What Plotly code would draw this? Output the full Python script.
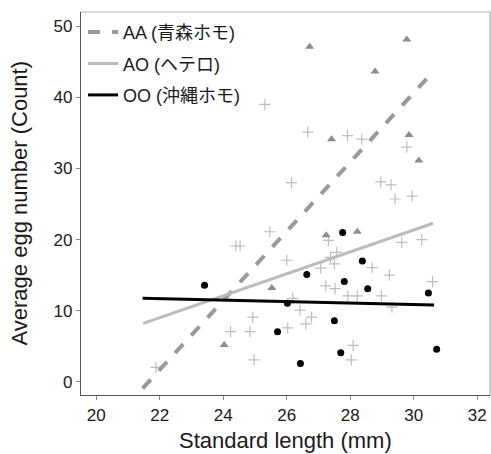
import plotly.graph_objects as go

# AA (triangles)
aa_x = [26.72, 29.78, 28.78, 27.41, 29.85, 30.16, 27.24, 28.22, 25.53, 24.03]
aa_y = [47.1, 48.1, 43.6, 34.1, 34.7, 31.1, 20.6, 21.1, 13.2, 5.2]

# AO (crosses)
ao_x = [25.31, 25.47, 24.40, 24.53, 26.66, 27.91, 28.36, 29.78, 26.15, 28.96, 29.28, 29.41,
        29.95, 27.31, 29.62, 30.25, 26.00, 27.57, 27.38, 27.50, 27.07, 28.69, 29.23, 30.59,
        27.23, 27.52, 27.92, 28.22, 28.98, 26.19, 29.31, 26.42, 26.78, 24.93, 26.60, 26.03,
        24.84, 24.23, 28.09, 28.03, 24.97, 21.88]
ao_y = [39.0, 21.1, 19.1, 19.1, 35.1, 34.6, 34.1, 33.0, 28.0, 28.1, 27.7, 25.7,
        26.1, 19.9, 19.6, 20.0, 17.1, 18.2, 17.5, 16.6, 16.0, 16.05, 15.0, 14.1,
        13.5, 13.1, 12.1, 12.1, 12.1, 11.75, 10.5, 10.1, 9.1, 9.1, 8.15, 7.6,
        7.07, 7.07, 5.15, 3.1, 3.1, 2.06]

# OO (dots)
oo_x = [27.76, 28.38, 26.63, 27.81, 28.55, 30.46, 26.02, 25.71, 27.50, 27.70, 26.43, 30.72, 23.41]
oo_y = [21.0, 17.0, 15.1, 14.1, 13.1, 12.5, 11.05, 7.07, 8.6, 4.1, 2.6, 4.6, 13.6]

# regression line endpoints
aa_fit_x = [21.46, 30.51]
aa_fit_y = [-0.9, 43.1]
ao_fit_x = [21.48, 30.61]
ao_fit_y = [8.24, 22.3]
oo_fit_x = [21.46, 30.64]
oo_fit_y = [11.75, 10.8]

x_ticks = [20, 22, 24, 26, 28, 30, 32]
y_ticks = [0, 10, 20, 30, 40, 50]

fig = go.Figure()

fig.add_trace(go.Scatter(x=ao_x, y=ao_y, mode="markers", showlegend=False,
                         marker=dict(symbol="cross-thin", size=8, line=dict(color="#bdbdbd", width=1.2))))
fig.add_trace(go.Scatter(x=aa_x, y=aa_y, mode="markers", showlegend=False,
                         marker=dict(symbol="triangle-up", size=8, color="#8c8c8c")))
fig.add_trace(go.Scatter(x=oo_x, y=oo_y, mode="markers", showlegend=False,
                         marker=dict(symbol="circle", size=7, color="#000000")))

fig.add_trace(go.Scatter(x=aa_fit_x, y=aa_fit_y, mode="lines", name="AA (青森ホモ)", legendgroup="a",
                         line=dict(color="#999999", width=4, dash="dash")))
fig.add_trace(go.Scatter(x=ao_fit_x, y=ao_fit_y, mode="lines", name="AO (ヘテロ)", legendgroup="b",
                         line=dict(color="#bcbcbc", width=3)))
fig.add_trace(go.Scatter(x=oo_fit_x, y=oo_fit_y, mode="lines", name="OO (沖縄ホモ)", legendgroup="c",
                         line=dict(color="#000000", width=3)))

font_family = "Liberation Sans, Arial, Noto Sans CJK JP, sans-serif"

fig.update_layout(
    width=491, height=454,
    margin=dict(l=81, r=1, t=12, b=59),
    paper_bgcolor="white", plot_bgcolor="white",
    font=dict(family=font_family, color="#1a1a1a", size=17),
    legend=dict(x=0.005, y=0.995, xanchor="left", yanchor="top",
                bgcolor="rgba(0,0,0,0)", font=dict(size=18, color="#1a1a1a"),
                tracegroupgap=5, itemwidth=30),
    xaxis=dict(range=[19.52, 32.4], tickvals=x_ticks, ticks="outside", ticklen=4,
               tickcolor="#888", showgrid=False, zeroline=False, showline=True,
               linecolor="#555", linewidth=1.2, automargin=False),
    yaxis=dict(range=[-1.83, 51.97], tickvals=y_ticks, ticks="outside", ticklen=4,
               tickcolor="#888", showgrid=False, zeroline=False, showline=True,
               linecolor="#555", linewidth=1.2, automargin=False),
    shapes=[
        dict(type="line", xref="paper", yref="paper", x0=0, x1=1, y0=1, y1=1,
             line=dict(color="#b0b0b0", width=1.2)),
        dict(type="line", xref="paper", yref="paper", x0=1, x1=1, y0=0, y1=1,
             line=dict(color="#b0b0b0", width=1.2)),
    ],
    annotations=[
        dict(text="Standard length (mm)", xref="paper", yref="paper", x=0.5, y=0,
             yshift=-45, xanchor="center", yanchor="middle", showarrow=False,
             font=dict(size=22)),
        dict(text="Average egg number (Count)", xref="paper", yref="paper", x=0, y=0.5,
             xshift=-62, xanchor="center", yanchor="middle", showarrow=False,
             textangle=-90, font=dict(size=22)),
    ],
)

fig.write_html("out.html", config={"displayModeBar": False},
               post_script="document.body.style.margin='0';")
